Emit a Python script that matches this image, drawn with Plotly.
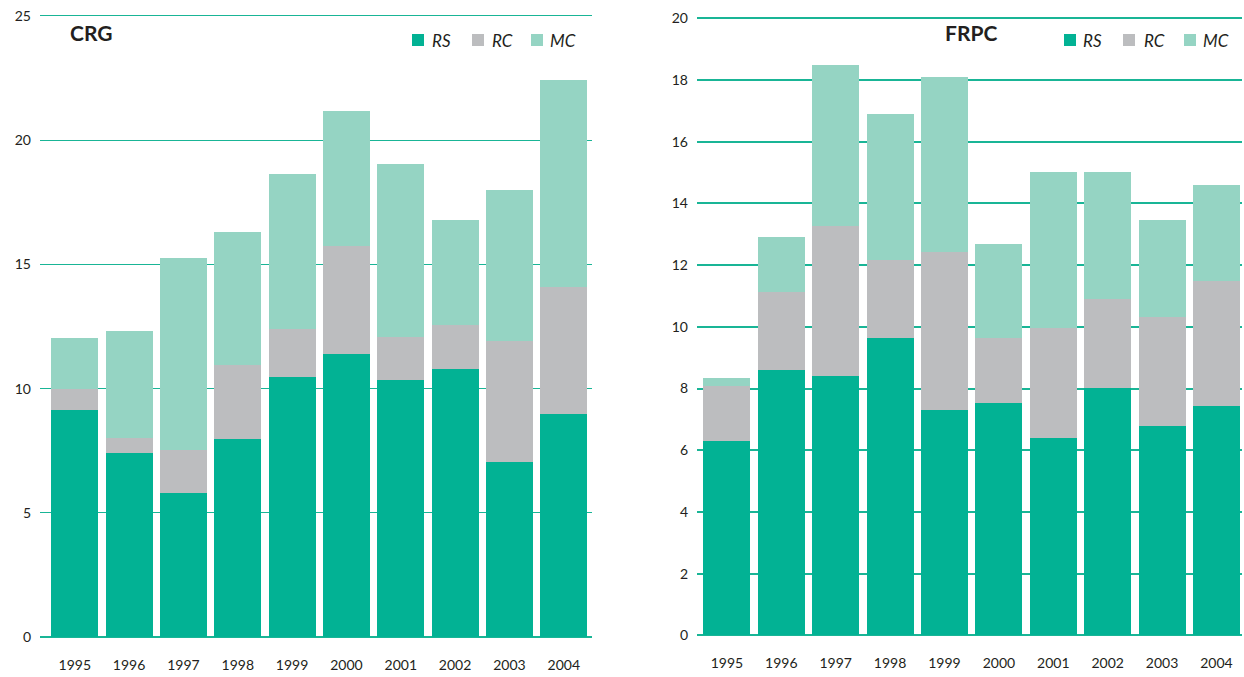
import plotly.graph_objects as go

years = ["1995", "1996", "1997", "1998", "1999", "2000", "2001", "2002", "2003", "2004"]

# CRG panel (stacked segment sizes derived from read cumulative tops)
crg_rs = [9.14, 7.42, 5.80, 7.97, 10.47, 11.39, 10.35, 10.80, 7.06, 8.98]
crg_rc = [0.83, 0.60, 1.74, 2.97, 1.93, 4.36, 1.73, 1.76, 4.86, 5.12]
crg_mc = [2.07, 4.30, 7.72, 5.36, 6.24, 5.43, 6.96, 4.23, 6.08, 8.32]

# FRPC panel
frpc_rs = [6.31, 8.61, 8.42, 9.65, 7.29, 7.54, 6.38, 8.01, 6.77, 7.43]
frpc_rc = [1.76, 2.53, 4.85, 2.53, 5.15, 2.10, 3.57, 2.89, 3.55, 4.05]
frpc_mc = [0.28, 1.76, 5.23, 4.72, 5.67, 3.04, 5.06, 4.11, 3.15, 3.13]

series_names = ["RS", "RC", "MC"]
colors = ["#02b294", "#bcbdbf", "#95d4c3"]

FONT = "Lato"
TXT = "#231f20"
GRID = "#19b596"

fig = go.Figure()

for name, vals, col in zip(series_names, [crg_rs, crg_rc, crg_mc], colors):
    fig.add_trace(go.Bar(x=years, y=vals, name=name, marker=dict(color=col, line=dict(width=0)),
                         xaxis="x", yaxis="y", showlegend=False))
for name, vals, col in zip(series_names, [frpc_rs, frpc_rc, frpc_mc], colors):
    fig.add_trace(go.Bar(x=years, y=vals, name=name, marker=dict(color=col, line=dict(width=0)),
                         xaxis="x2", yaxis="y2", showlegend=False))

W, H = 1244, 677
tickfont = dict(family=FONT, size=14, color=TXT)

# pixel layout of the two panels
L_y0, L_ppu, L_top = 637.0, 24.84, 25.1
R_y0, R_ppu, R_top = 635.3, 30.85, 20.1
L_ytop = L_y0 - L_top * L_ppu
R_ytop = R_y0 - R_top * R_ppu

annotations = [
    dict(text="<b>CRG</b>", x=68 / W, y=(H - 33) / H, xref="paper", yref="paper",
         xanchor="left", yanchor="middle", showarrow=False,
         font=dict(family=FONT, size=21, color=TXT)),
    dict(text="<b>FRPC</b>", x=943 / W, y=(H - 33) / H, xref="paper", yref="paper",
         xanchor="left", yanchor="middle", showarrow=False,
         font=dict(family=FONT, size=21, color=TXT)),
]
shapes = []

# legend keys (squares + italic labels), one row per panel
legend_rows = [([412, 472, 531], [430, 490, 548]), ([1064, 1123, 1184], [1081, 1142, 1201])]
LEG_Y = 40
for sq_xs, tx_xs in legend_rows:
    for name, col, sx, tx in zip(series_names, colors, sq_xs, tx_xs):
        shapes.append(dict(type="rect", xref="paper", yref="paper",
                           x0=sx / W, x1=(sx + 12) / W,
                           y0=(H - LEG_Y - 6) / H, y1=(H - LEG_Y + 6) / H,
                           fillcolor=col, line=dict(width=0), layer="above"))
        annotations.append(dict(text=f"<i>{name}</i>", x=tx / W, y=(H - LEG_Y) / H,
                                xref="paper", yref="paper", xanchor="left", yanchor="middle",
                                showarrow=False, font=dict(family=FONT, size=17, color=TXT)))

fig.update_layout(
    width=W, height=H,
    margin=dict(l=0, r=0, t=0, b=0, autoexpand=False),
    paper_bgcolor="white", plot_bgcolor="white",
    barmode="stack", bargap=0.135,
    font=dict(family=FONT, color=TXT),
    showlegend=False,
    xaxis=dict(domain=[40 / W, 592 / W], range=[-0.64, 9.52], showgrid=False, showline=False,
               ticks="", tickfont=tickfont, ticklabelstandoff=18, anchor="y"),
    yaxis=dict(domain=[(H - L_y0) / H, (H - L_ytop) / H], range=[0, L_top], dtick=5,
               showgrid=True, gridcolor=GRID, gridwidth=1,
               zeroline=True, zerolinecolor=GRID, zerolinewidth=1.5,
               showline=False, ticks="", tickfont=tickfont, ticklabelstandoff=8, anchor="x"),
    xaxis2=dict(domain=[697 / W, 1242 / W], range=[-0.55, 9.47], showgrid=False, showline=False,
                ticks="", tickfont=tickfont, ticklabelstandoff=18, anchor="y2"),
    yaxis2=dict(domain=[(H - R_y0) / H, (H - R_ytop) / H], range=[0, R_top], dtick=2,
                showgrid=True, gridcolor=GRID, gridwidth=2,
                zeroline=True, zerolinecolor=GRID, zerolinewidth=2,
                showline=False, ticks="", tickfont=tickfont, ticklabelstandoff=8, anchor="x2"),
    annotations=annotations,
    shapes=shapes,
)

fig.write_html("out.html")
